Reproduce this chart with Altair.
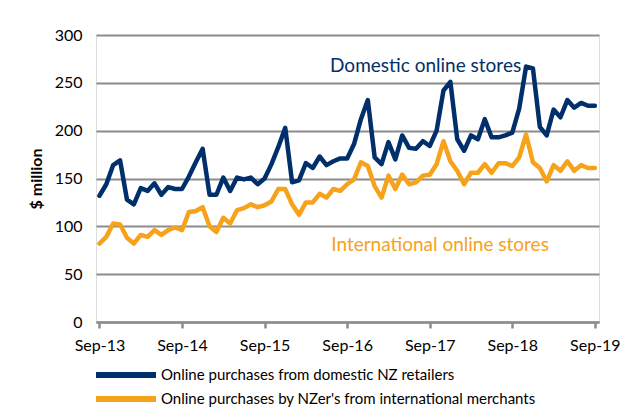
import altair as alt
import pandas as pd

tick_labels = ["Sep-13", "Sep-14", "Sep-15", "Sep-16", "Sep-17", "Sep-18", "Sep-19"]
series_names = ["Online purchases from domestic NZ retailers",
                "Online purchases by NZer's from international merchants"]
series_colors = ["#012F6B", "#F7A21B"]

domestic = [132, 144, 164, 169, 128, 123, 140, 137, 145, 133, 141, 139, 139,
            152, 167, 181, 133, 133, 151, 137, 151, 149, 151, 144, 150,
            165, 183, 203, 146, 148, 166, 161, 173, 164, 168, 171, 171,
            186, 212, 232, 172, 165, 188, 170, 195, 182, 181, 189, 184,
            200, 242, 251, 191, 179, 195, 191, 212, 193, 193, 195, 198,
            223, 267, 265, 204, 195, 222, 214, 232, 224, 229, 226, 226]

international = [82, 89, 103, 102, 88, 82, 91, 89, 96, 91, 96, 99, 96,
                 115, 116, 120, 100, 94, 109, 103, 117, 119, 123, 120, 122,
                 126, 139, 139, 123, 112, 125, 125, 134, 130, 139, 137, 144,
                 149, 167, 163, 142, 130, 153, 139, 154, 144, 146, 153, 154,
                 165, 189, 168, 158, 144, 156, 156, 165, 156, 166, 166, 163,
                 172, 196, 167, 161, 147, 164, 158, 168, 158, 164, 161, 161]

annot_text = ["Domestic online stores", "International online stores"]
annot_x = [47.4, 49.5]
annot_y = [268, 80]

rows = []
for name, vals in zip(series_names, [domestic, international]):
    for i, v in enumerate(vals):
        rows.append({"month": i, "value": v, "series": name})
df = pd.DataFrame(rows)
ann = pd.DataFrame({"text": annot_text, "x": annot_x, "y": annot_y, "series": series_names})

label_expr = "[" + ",".join("'%s'" % t for t in tick_labels) + "][round(datum.value/12)]"

xscale = alt.Scale(domain=[-0.5, 72.6], nice=False, zero=False)
yscale = alt.Scale(domain=[0, 300], nice=False)

lines = alt.Chart(df).mark_line(strokeWidth=4.5, strokeJoin="round", strokeCap="round").encode(
    x=alt.X("month:Q", scale=xscale,
            axis=alt.Axis(values=[0, 12, 24, 36, 48, 60, 72], labelExpr=label_expr,
                          title=None, grid=False, domainColor="#8C8C8C", domainWidth=2.5,
                          tickColor="#8C8C8C", tickWidth=2.5, tickSize=6, labelPadding=9,
                          labelFont="Lato", labelFontSize=16, labelColor="#000000")),
    y=alt.Y("value:Q", scale=yscale,
            axis=alt.Axis(values=[0, 50, 100, 150, 200, 250, 300], title="$ million",
                          domain=False, ticks=False, labelPadding=14, grid=True,
                          gridColor="#8C8C8C", gridWidth=2,
                          labelFont="Lato", labelFontSize=16, labelColor="#000000",
                          titleFont="Lato", titleFontSize=16, titleFontWeight="bold",
                          titleColor="#000000", titlePadding=10)),
    color=alt.Color("series:N", scale=alt.Scale(domain=series_names, range=series_colors),
                    sort=series_names,
                    legend=alt.Legend(title=None, orient="none", legendX=22, legendY=332,
                                      direction="vertical", symbolType="M-6,0L6,0",
                                      symbolSize=100, symbolStrokeWidth=6,
                                      labelFont="Lato", labelFontSize=15, labelColor="#000000",
                                      labelLimit=600, labelOffset=27, rowPadding=0, padding=0)),
)

texts = alt.Chart(ann).mark_text(font="Lato", fontSize=19, align="center", baseline="middle").encode(
    x=alt.X("x:Q", scale=xscale),
    y=alt.Y("y:Q", scale=yscale),
    text="text:N",
    color=alt.Color("series:N", scale=alt.Scale(domain=series_names, range=series_colors), legend=None),
)

chart = alt.layer(lines, texts).properties(
    width=503, height=287,
    autosize=alt.AutoSizeParams(type="none"),
    padding={"left": 88, "top": 27, "right": 27, "bottom": 86},
).configure_view(stroke=None).configure(background="#FFFFFF")

chart.save("out.html", embed_options={"renderer": "svg", "actions": False})
